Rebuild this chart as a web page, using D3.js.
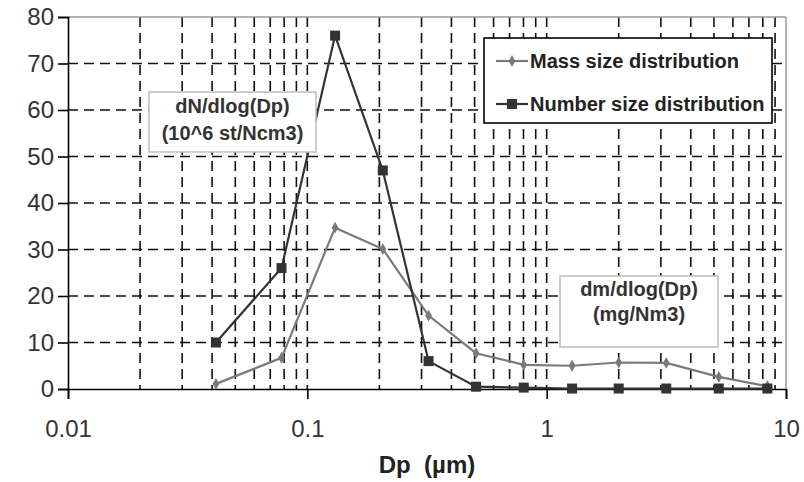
<!DOCTYPE html>
<html>
<head>
<meta charset="utf-8">
<script src="https://cdn.jsdelivr.net/npm/d3@7"></script>
<style>
  html, body { margin: 0; padding: 0; background: #fff; }
  svg { display: block; font-family: "Liberation Sans", Arial, sans-serif; }
</style>
</head>
<body>
<svg id="chart" width="804" height="482"></svg>
<script>
// ---- data ----
const diameters = [0.0415, 0.078, 0.1306, 0.2067, 0.321, 0.507, 0.802, 1.277, 2.0, 3.16, 5.24, 8.36];
const massValues = [1.1, 6.7, 34.7, 30.1, 15.8, 7.7, 5.2, 5.0, 5.7, 5.6, 2.6, 0.6];
const numberValues = [10.0, 26.0, 76.0, 47.0, 6.0, 0.5, 0.3, 0.1, 0.1, 0.1, 0.1, 0.1];
const yTicks = [0, 10, 20, 30, 40, 50, 60, 70, 80];
const xTicks = [0.01, 0.1, 1, 10];
const xTickLabels = ["0.01", "0.1", "1", "10"];
const seriesNames = ["Mass size distribution", "Number size distribution"];
const numberLabel = ["dN/dlog(Dp)", "(10^6 st/Ncm3)"];
const massLabel = ["dm/dlog(Dp)", "(mg/Nm3)"];
const xTitle = "Dp\u00a0\u00a0(\u00b5m)";

// ---- layout ----
const L = 68, R = 786, T = 17, B = 389;
const svg = d3.select("#chart");
const x = d3.scaleLog().domain([0.01, 10]).range([L, R]);
const y = d3.scaleLinear().domain([0, 80]).range([B, T]);

const massColor = "#7a7a7a", numColor = "#333333";

// minor/major vertical gridlines (2..10 in each decade)
const gridX = [];
[0.01, 0.1, 1].forEach(d => { for (let k = 2; k <= 10; k++) gridX.push(d * k); });
const grid = svg.append("g");
grid.selectAll("line.vx").data(gridX.filter(v => v < 10 - 1e-9)).enter().append("line")
  .attr("x1", d => x(d)).attr("x2", d => x(d)).attr("y1", T).attr("y2", B)
  .attr("stroke", "#111").attr("stroke-width", 1.6).attr("stroke-dasharray", "10,6");
grid.selectAll("line.hy").data(yTicks.filter(v => v > 0 && v < 80)).enter().append("line")
  .attr("x1", L).attr("x2", R).attr("y1", d => y(d)).attr("y2", d => y(d))
  .attr("stroke", "#111").attr("stroke-width", 1.6).attr("stroke-dasharray", "10,6");

// top and right border (gray)
svg.append("line").attr("x1", L).attr("x2", R).attr("y1", y(80)).attr("y2", y(80))
  .attr("stroke", "#999").attr("stroke-width", 1.5);
svg.append("line").attr("x1", R).attr("x2", R).attr("y1", T).attr("y2", B)
  .attr("stroke", "#999").attr("stroke-width", 1.5);

// axes
const yAxis = d3.axisLeft(y).tickValues(yTicks).tickSize(10).tickFormat(d3.format("d"));
const gy = svg.append("g").attr("transform", `translate(${L},0)`).call(yAxis);
gy.select(".domain").attr("stroke", "#000").attr("stroke-width", 1.6);
gy.selectAll(".tick line").attr("stroke", "#000").attr("stroke-width", 1.6);
gy.selectAll(".tick text").attr("font-size", 24).attr("fill", "#333").attr("x", -14)
  .attr("font-family", "Liberation Sans, Arial, sans-serif");

const xAxis = d3.axisBottom(x).tickValues(xTicks).tickSize(10)
  .tickFormat((d, i) => xTickLabels[i]);
const gx = svg.append("g").attr("transform", `translate(0,${B})`).call(xAxis);
gx.select(".domain").attr("stroke", "#000").attr("stroke-width", 1.6);
gx.selectAll(".tick line").attr("stroke", "#000").attr("stroke-width", 1.6);
gx.selectAll(".tick text").attr("font-size", 24).attr("fill", "#333").attr("y", 31)
  .attr("font-family", "Liberation Sans, Arial, sans-serif");

svg.append("text").attr("x", 427).attr("y", 473)
  .attr("text-anchor", "middle").attr("font-size", 24).attr("font-weight", "bold")
  .attr("fill", "#222").text(xTitle);

// series
const line = d3.line().x(d => x(d[0])).y(d => y(d[1]));
const massData = diameters.map((d, i) => [d, massValues[i]]);
const numData = diameters.map((d, i) => [d, numberValues[i]]);

svg.append("path").datum(massData).attr("d", line).attr("fill", "none")
  .attr("stroke", massColor).attr("stroke-width", 2.2);
svg.append("path").datum(numData).attr("d", line).attr("fill", "none")
  .attr("stroke", numColor).attr("stroke-width", 2.2);

svg.selectAll("path.md").data(massData).enter().append("path")
  .attr("d", d3.symbol(d3.symbolDiamond, 40))
  .attr("transform", d => `translate(${x(d[0])},${y(d[1])})`)
  .attr("fill", massColor);
svg.selectAll("rect.ns").data(numData).enter().append("rect")
  .attr("x", d => x(d[0]) - 5).attr("y", d => y(d[1]) - 5)
  .attr("width", 10).attr("height", 10).attr("fill", numColor);

// annotation boxes
function labelBox(x0, y0, w, h, lines, baselines) {
  const g = svg.append("g");
  g.append("rect").attr("x", x0).attr("y", y0).attr("width", w).attr("height", h)
    .attr("fill", "#fff").attr("stroke", "#bdbdbd").attr("stroke-width", 1.5);
  lines.forEach((t, i) => {
    g.append("text").attr("x", x0 + w / 2).attr("y", baselines[i])
      .attr("text-anchor", "middle").attr("font-size", 20).attr("font-weight", "bold")
      .attr("fill", "#333").text(t);
  });
}
labelBox(149, 92, 167, 60, numberLabel, [113, 140]);
labelBox(560, 276, 158, 71, massLabel, [296, 321]);

// legend
const lg = svg.append("g");
lg.append("rect").attr("x", 484).attr("y", 38).attr("width", 288).attr("height", 85)
  .attr("fill", "#fff").attr("stroke", "#000").attr("stroke-width", 1.6);
const legendColors = [massColor, numColor];
const legendYs = [61, 104];
seriesNames.forEach((name, i) => {
  const ly = legendYs[i];
  lg.append("line").attr("x1", 496).attr("x2", 528).attr("y1", ly).attr("y2", ly)
    .attr("stroke", legendColors[i]).attr("stroke-width", 2.2);
  if (i === 0) {
    lg.append("path").attr("d", d3.symbol(d3.symbolDiamond, 40)).attr("fill", massColor)
      .attr("transform", `translate(512,${ly})`);
  } else {
    lg.append("rect").attr("x", 507).attr("y", ly - 5).attr("width", 10).attr("height", 10)
      .attr("fill", numColor);
  }
  lg.append("text").attr("x", 530).attr("y", ly + 7).attr("font-size", 20)
    .attr("font-weight", "bold").attr("fill", "#222").text(name);
});
</script>
</body>
</html>
